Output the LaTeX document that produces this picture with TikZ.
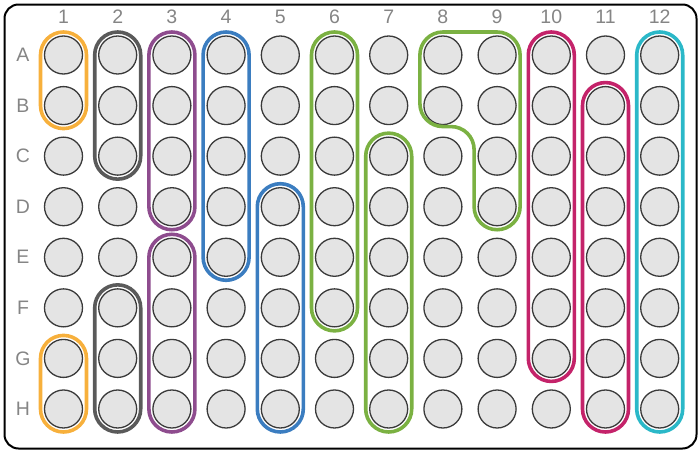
\documentclass[tikz,border=0pt]{standalone}
\usepackage{fontspec}
\setmainfont{Liberation Sans}
\usetikzlibrary{calc}
\definecolor{cOrange}{HTML}{F7B03C}
\definecolor{cGray}{HTML}{5A5A5A}
\definecolor{cPurple}{HTML}{8E4C8E}
\definecolor{cBlue}{HTML}{3B7DC0}
\definecolor{cGreen}{HTML}{7BB142}
\definecolor{cMagenta}{HTML}{C4236A}
\definecolor{cCyan}{HTML}{2BB8C8}
\definecolor{cWell}{HTML}{E4E4E4}
\definecolor{cWellLine}{HTML}{3A3A3A}
\definecolor{cLabel}{HTML}{858585}
\newcommand\pillgroup[3]{\draw[pill,#1] ([shift={(-23pt,23pt)}]#2.center) rectangle ([shift={(23pt,-23pt)}]#3.center);}
\begin{document}
\begin{tikzpicture}[x=1pt,y=-1pt,
  well/.style={circle,draw=cWellLine,fill=cWell,line width=1.3pt,minimum size=38pt,inner sep=0pt},
  lbl/.style={text=cLabel,font=\fontsize{19.5}{19.5}\selectfont,inner sep=0pt},
  pill/.style={line width=3.6pt,rounded corners=23pt},
  plate/.style={draw=black,line width=2pt,rounded corners=14pt}]
\useasboundingbox (0,0) rectangle (699,450);
\draw[plate] (4.5,4.5) rectangle (696.5,448.5);
\foreach \c in {1,...,12}{
  \node[lbl] (col-\c) at ({63.5+54.2*(\c-1)},17) {\c};
}
\foreach \r [count=\i] in {A,B,C,D,E,F,G,H}{
  \node[lbl] (row-\r) at (23,{55+50.57*(\i-1)}) {\r};
  \foreach \c in {1,...,12}{
    \node[well] (w-\r-\c) at ({63.5+54.2*(\c-1)},{55+50.57*(\i-1)}) {};
  }
}
\pillgroup{cOrange}{w-A-1}{w-B-1}
\pillgroup{cOrange}{w-G-1}{w-H-1}
\pillgroup{cGray}{w-A-2}{w-C-2}
\pillgroup{cGray}{w-F-2}{w-H-2}
\pillgroup{cPurple}{w-A-3}{w-D-3}
\pillgroup{cPurple}{w-E-3}{w-H-3}
\pillgroup{cBlue}{w-A-4}{w-E-4}
\pillgroup{cBlue}{w-D-5}{w-H-5}
\pillgroup{cGreen}{w-A-6}{w-F-6}
\pillgroup{cGreen}{w-C-7}{w-H-7}
\pillgroup{cMagenta}{w-A-10}{w-G-10}
\pillgroup{cMagenta}{w-B-11}{w-H-11}
\pillgroup{cCyan}{w-A-12}{w-H-12}
\draw[pill,cGreen] ($(w-A-8.center)!0.5!(w-A-9.center)+(0pt,23pt)$)
  -- ([shift={(23pt,23pt)}]w-A-9.center)
  -- ([shift={(23pt,-23pt)}]w-D-9.center)
  -- ([shift={(-23pt,-23pt)}]w-D-9.center)
  -- ([shift={(-23pt,-21pt)}]w-B-9.center)
  -- ([shift={(-23pt,-21pt)}]w-B-8.center)
  -- ([shift={(-23pt,23pt)}]w-A-8.center)
  -- cycle;
\end{tikzpicture}
\end{document}
